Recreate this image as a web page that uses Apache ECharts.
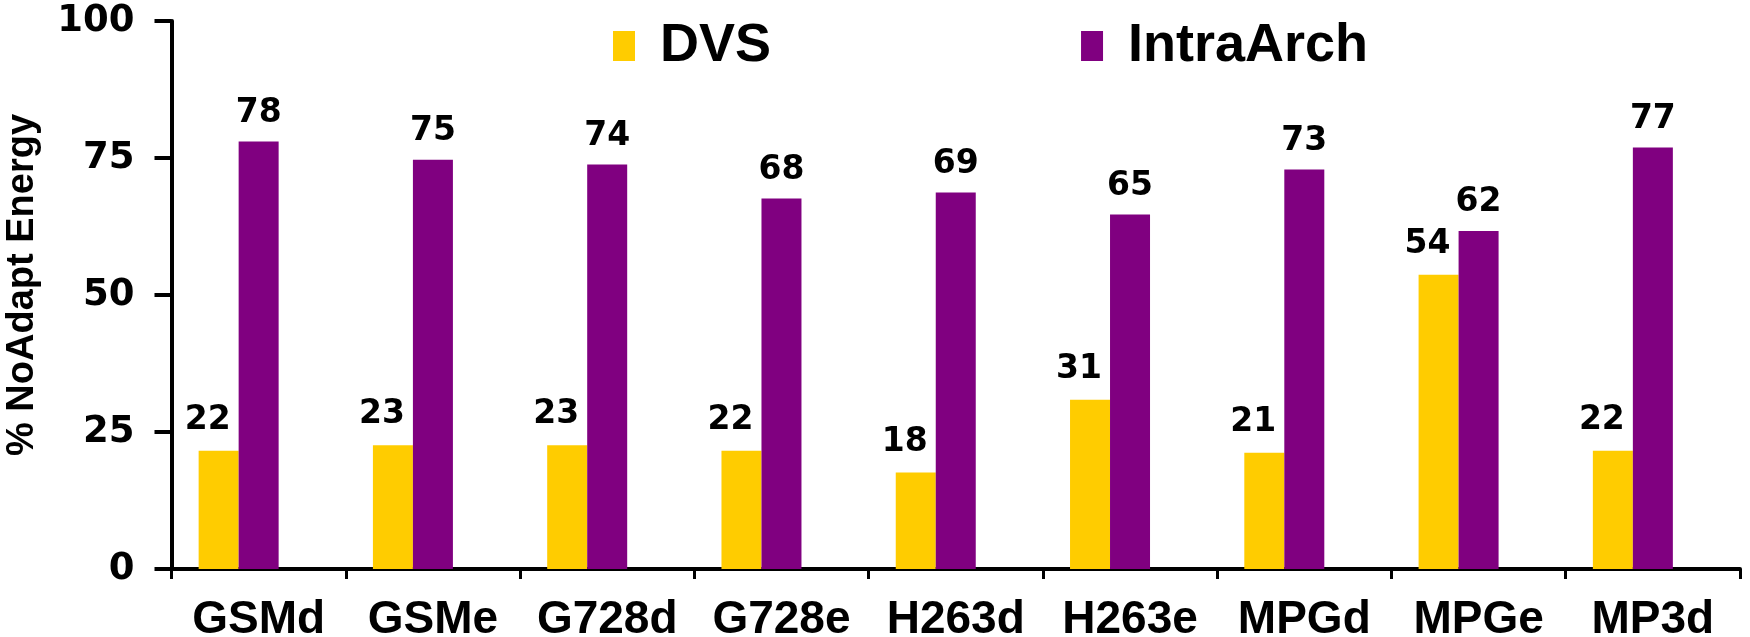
<!DOCTYPE html>
<html>
<head>
<meta charset="utf-8">
<script src="https://cdn.jsdelivr.net/npm/echarts@6/dist/echarts.min.js"></script>
<style>
html,body{margin:0;padding:0;background:#fff;}
#chart{width:1750px;height:637px;}
</style>
</head>
<body>
<div id="chart"></div>
<script>
const categories = ['GSMd','GSMe','G728d','G728e','H263d','H263e','MPGd','MPGe','MP3d'];
const dvs = [21.6, 22.6, 22.6, 21.6, 17.6, 30.9, 21.2, 53.7, 21.6];
const intraArch = [78.0, 74.7, 73.8, 67.6, 68.7, 64.7, 72.9, 61.7, 76.9];
const yTicks = [0, 25, 50, 75, 100];

const chart = echarts.init(document.getElementById('chart'), null, {renderer:'canvas'});
const labelFont = {fontFamily:'DejaVu Sans, sans-serif', fontWeight:'bold', fontSize:33, color:'#000'};
const option = {
  animation:false,
  backgroundColor:'#fff',
  grid:{left:171.5, right:10, top:21, bottom:68, containLabel:false, outerBoundsMode:'none'},
  legend:{
    data:['DVS','IntraArch'],
    left:608, top:14,
    icon:'rect', itemWidth:22, itemHeight:30, itemGap:310,
    textStyle:{fontFamily:'Liberation Sans, Arial, sans-serif', fontWeight:'bold', fontSize:54, color:'#000', padding:[0,0,0,20]}
  },
  xAxis:{
    type:'category', data:categories,
    axisLine:{lineStyle:{color:'#000', width:4}},
    axisTick:{show:true, length:10, lineStyle:{color:'#000', width:3}},
    axisLabel:{interval:0, margin:28, fontFamily:'Liberation Sans, Arial, sans-serif', fontWeight:'bold', fontSize:46, color:'#000'},
    splitLine:{show:false}
  },
  yAxis:{
    type:'value', min:yTicks[0], max:yTicks[yTicks.length-1], interval:25,
    name:'% NoAdapt Energy', nameLocation:'middle', nameGap:130, nameRotate:90,
    nameTextStyle:{fontFamily:'Liberation Sans, Arial, sans-serif', fontWeight:'bold', fontSize:38, color:'#000', padding:[0,0,0,20]},
    axisLine:{show:true, lineStyle:{color:'#000', width:4}},
    axisTick:{show:true, length:17, lineStyle:{color:'#000', width:4}},
    axisLabel:{margin:37, fontFamily:'DejaVu Sans, sans-serif', fontWeight:'bold', fontSize:37, color:'#000'},
    splitLine:{show:false}
  },
  series:[
    {name:'DVS', type:'bar', data:dvs, barWidth:40, barGap:'0%', itemStyle:{color:'#FFCC00'},
     label:{show:true, position:'top', distance:14, offset:[-11,0], formatter:p=>Math.round(p.value), ...labelFont}},
    {name:'IntraArch', type:'bar', data:intraArch, barWidth:40, barGap:'0%', itemStyle:{color:'#800080'},
     label:{show:true, position:'top', distance:12, formatter:p=>Math.round(p.value), ...labelFont}},
    {name:'', type:'bar', data:[], barWidth:40, barGap:'0%'}
  ]
};
chart.setOption(option);
</script>
</body>
</html>
